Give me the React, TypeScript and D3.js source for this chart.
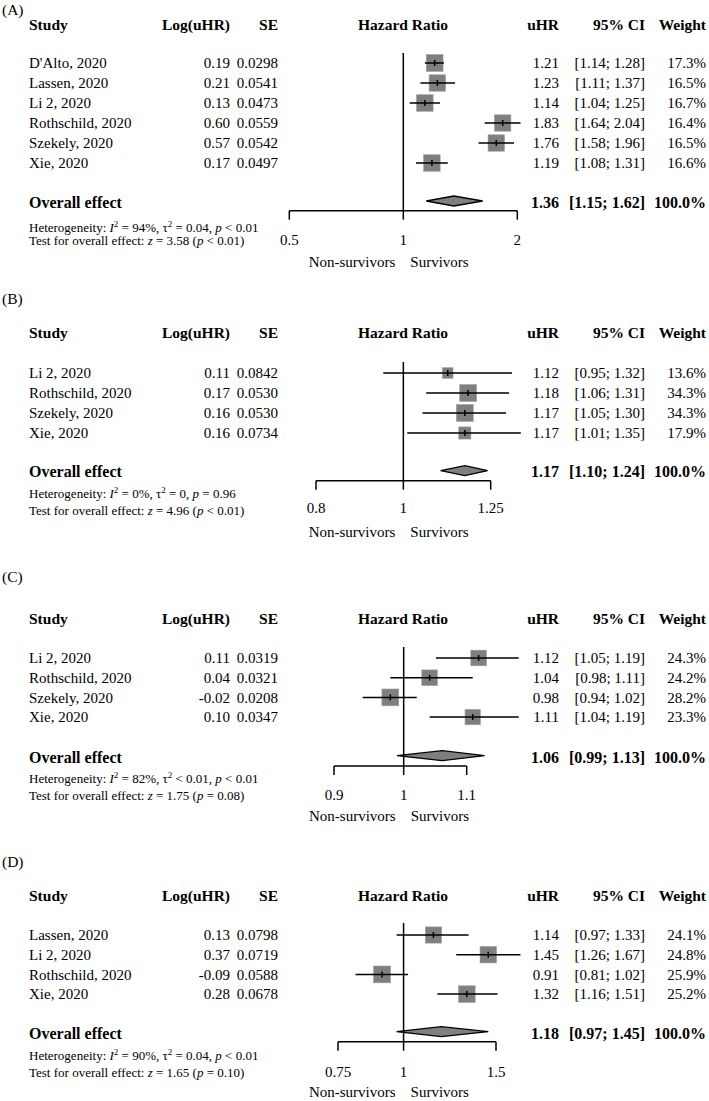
import React from "react";
import * as d3 from "d3";

// ---------- DATA ----------
const panelLabels = ["(A)", "(B)", "(C)", "(D)"];

const studiesA = ["D'Alto, 2020", "Lassen, 2020", "Li 2, 2020", "Rothschild, 2020", "Szekely, 2020", "Xie, 2020"];
const logA = [0.19, 0.21, 0.13, 0.6, 0.57, 0.17];
const seA = [0.0298, 0.0541, 0.0473, 0.0559, 0.0542, 0.0497];
const hrA = [1.21, 1.23, 1.14, 1.83, 1.76, 1.19];
const loA = [1.14, 1.11, 1.04, 1.64, 1.58, 1.08];
const hiA = [1.28, 1.37, 1.25, 2.04, 1.96, 1.31];
const wA = [17.3, 16.5, 16.7, 16.4, 16.5, 16.6];

const studiesB = ["Li 2, 2020", "Rothschild, 2020", "Szekely, 2020", "Xie, 2020"];
const logB = [0.11, 0.17, 0.16, 0.16];
const seB = [0.0842, 0.053, 0.053, 0.0734];
const hrB = [1.12, 1.18, 1.17, 1.17];
const loB = [0.95, 1.06, 1.05, 1.01];
const hiB = [1.32, 1.31, 1.3, 1.35];
const wB = [13.6, 34.3, 34.3, 17.9];

const studiesC = ["Li 2, 2020", "Rothschild, 2020", "Szekely, 2020", "Xie, 2020"];
const logC = [0.11, 0.04, -0.02, 0.1];
const seC = [0.0319, 0.0321, 0.0208, 0.0347];
const hrC = [1.12, 1.04, 0.98, 1.11];
const loC = [1.05, 0.98, 0.94, 1.04];
const hiC = [1.19, 1.11, 1.02, 1.19];
const wC = [24.3, 24.2, 28.2, 23.3];

const studiesD = ["Lassen, 2020", "Li 2, 2020", "Rothschild, 2020", "Xie, 2020"];
const logD = [0.13, 0.37, -0.09, 0.28];
const seD = [0.0798, 0.0719, 0.0588, 0.0678];
const hrD = [1.14, 1.45, 0.91, 1.32];
const loD = [0.97, 1.26, 0.81, 1.16];
const hiD = [1.33, 1.67, 1.02, 1.51];
const wD = [24.1, 24.8, 25.9, 25.2];

const overallHr = [1.36, 1.17, 1.06, 1.18];
const overallLo = [1.15, 1.1, 0.99, 0.97];
const overallHi = [1.62, 1.24, 1.13, 1.45];

const hetI2 = ["94%", "0%", "82%", "90%"];
const hetTau = ["= 0.04", "= 0", "< 0.01", "= 0.04"];
const hetP = ["< 0.01", "= 0.96", "< 0.01", "< 0.01"];
const testZ = ["3.58", "4.96", "1.75", "1.65"];
const testP = ["< 0.01", "< 0.01", "= 0.08", "= 0.10"];

const ticksA = [0.5, 1, 2];
const ticksB = [0.8, 1, 1.25];
const ticksC = [0.9, 1, 1.1];
const ticksD = [0.75, 1, 1.5];

const panels = [
  { studies: studiesA, log: logA, se: seA, hr: hrA, lo: loA, hi: hiA, w: wA, ticks: ticksA },
  { studies: studiesB, log: logB, se: seB, hr: hrB, lo: loB, hi: hiB, w: wB, ticks: ticksB },
  { studies: studiesC, log: logC, se: seC, hr: hrC, lo: loC, hi: hiC, w: wC, ticks: ticksC },
  { studies: studiesD, log: logD, se: seD, hr: hrD, lo: loD, hi: hiD, w: wD, ticks: ticksD },
];

// ---------- LAYOUT ----------
const layout = [
  { range: [289.3, 517.3], label: 10, header: 25, row0: 63, step: 20, overall: 202.5, diamond: 201, het: 227, test: 240, axis: 210.7, tickLabel: 240, surv: 261.7, refTop: 53 },
  { range: [316, 490.7], label: 299, header: 333, row0: 373, step: 20, overall: 471.5, diamond: 470.7, het: 493, test: 510, axis: 480.7, tickLabel: 508, surv: 532, refTop: 362 },
  { range: [334, 466.7], label: 576.7, header: 619, row0: 658, step: 19.7, overall: 757.5, diamond: 755.7, het: 778, test: 795, axis: 766, tickLabel: 795, surv: 816, refTop: 647 },
  { range: [338, 496], label: 861.7, header: 896, row0: 935, step: 19.7, overall: 1033.5, diamond: 1031.7, het: 1055, test: 1072, axis: 1041.7, tickLabel: 1071.7, surv: 1091.7, refTop: 923 },
];

const FONT = "'Liberation Serif', 'Times New Roman', Times, serif";
const X = { study: 29, log: 230, se: 278, hrHead: 403, uhr: 559, ci: 645, weight: 706 };
const REG = 15;
const BOLD = 15.5;
const SMALL = 13;
const GRAY = "#7f7f7f";

function Panel({ idx }: { idx: number }) {
  const p = panels[idx];
  const L = layout[idx];
  const x = d3.scaleLog().domain([p.ticks[0], p.ticks[p.ticks.length - 1]]).range(L.range);
  const maxW = d3.max(p.w) as number;
  const rowY = (i: number) => L.row0 + i * L.step;
  const x1 = x(1);
  const dy = "0.35em";
  const sup = { fontSize: 9 };
  return (
    <g fontFamily={FONT} fill="#000">
      <text x={2} y={L.label} dy={dy} fontSize={15.5}>{panelLabels[idx]}</text>
      {/* headers */}
      <g fontWeight="bold" fontSize={BOLD}>
        <text x={X.study} y={L.header} dy={dy}>Study</text>
        <text x={X.log} y={L.header} dy={dy} textAnchor="end">Log(uHR)</text>
        <text x={X.se} y={L.header} dy={dy} textAnchor="end">SE</text>
        <text x={X.hrHead} y={L.header} dy={dy} textAnchor="middle">Hazard Ratio</text>
        <text x={X.uhr} y={L.header} dy={dy} textAnchor="end">uHR</text>
        <text x={X.ci} y={L.header} dy={dy} textAnchor="end">95% CI</text>
        <text x={X.weight} y={L.header} dy={dy} textAnchor="end">Weight</text>
      </g>
      {/* rows */}
      {p.studies.map((s, i) => {
        const y = rowY(i);
        const side = 16.8 * Math.sqrt(p.w[i] / maxW);
        const cx = x(p.hr[i]);
        return (
          <g key={s} fontSize={REG}>
            <text x={X.study} y={y} dy={dy}>{s}</text>
            <text x={X.log} y={y} dy={dy} textAnchor="end">{p.log[i].toFixed(2)}</text>
            <text x={X.se} y={y} dy={dy} textAnchor="end">{p.se[i].toFixed(4)}</text>
            <rect x={cx - side / 2} y={y - side / 2} width={side} height={side} fill={GRAY} stroke="#9a9a9a" strokeWidth={0.6} />
            <line x1={x(p.lo[i])} x2={x(p.hi[i])} y1={y} y2={y} stroke="#000" strokeWidth={1.5} />
            <line x1={cx} x2={cx} y1={y - 3} y2={y + 3} stroke="#000" strokeWidth={1.5} />
            <text x={X.uhr} y={y} dy={dy} textAnchor="end">{p.hr[i].toFixed(2)}</text>
            <text x={X.ci} y={y} dy={dy} textAnchor="end">{`[${p.lo[i].toFixed(2)}; ${p.hi[i].toFixed(2)}]`}</text>
            <text x={X.weight} y={y} dy={dy} textAnchor="end">{`${p.w[i].toFixed(1)}%`}</text>
          </g>
        );
      })}
      {/* overall */}
      <g fontWeight="bold" fontSize={16}>
        <text x={X.study} y={L.overall} dy={dy}>Overall effect</text>
        <text x={X.uhr} y={L.overall} dy={dy} textAnchor="end">{overallHr[idx].toFixed(2)}</text>
        <text x={X.ci} y={L.overall} dy={dy} textAnchor="end">{`[${overallLo[idx].toFixed(2)}; ${overallHi[idx].toFixed(2)}]`}</text>
        <text x={X.weight} y={L.overall} dy={dy} textAnchor="end">100.0%</text>
      </g>
      <polygon
        points={[
          [x(overallLo[idx]), L.diamond],
          [x(overallHr[idx]), L.diamond - 5],
          [x(overallHi[idx]), L.diamond],
          [x(overallHr[idx]), L.diamond + 5],
        ].map((d) => d.join(",")).join(" ")}
        fill={GRAY}
        stroke="#000"
        strokeWidth={1.3}
      />
      {/* reference line */}
      <line x1={x1} x2={x1} y1={L.refTop} y2={L.axis} stroke="#000" strokeWidth={1.5} />
      {/* axis */}
      <line x1={L.range[0]} x2={L.range[1]} y1={L.axis} y2={L.axis} stroke="#000" strokeWidth={1.5} />
      {p.ticks.map((t) => (
        <g key={t}>
          <line x1={x(t)} x2={x(t)} y1={L.axis} y2={L.axis + 9} stroke="#000" strokeWidth={1.5} />
          <text x={x(t)} y={L.tickLabel} dy={dy} fontSize={REG} textAnchor="middle">{String(t)}</text>
        </g>
      ))}
      <text x={x1 - 8} y={L.surv} dy={dy} fontSize={REG} textAnchor="end">Non-survivors</text>
      <text x={x1 + 7} y={L.surv} dy={dy} fontSize={REG}>Survivors</text>
      {/* heterogeneity */}
      <text x={X.study} y={L.het} dy={dy} fontSize={SMALL}>
        Heterogeneity: <tspan fontStyle="italic">I</tspan>
        <tspan dy={-5} style={sup}>2</tspan>
        <tspan dy={5}>{` = ${hetI2[idx]}, τ`}</tspan>
        <tspan dy={-5} style={sup}>2</tspan>
        <tspan dy={5}>{` ${hetTau[idx]}, `}</tspan>
        <tspan fontStyle="italic">p</tspan>
        {` ${hetP[idx]}`}
      </text>
      <text x={X.study} y={L.test} dy={dy} fontSize={SMALL}>
        {"Test for overall effect: "}
        <tspan fontStyle="italic">z</tspan>
        {` = ${testZ[idx]} (`}
        <tspan fontStyle="italic">p</tspan>
        {` ${testP[idx]})`}
      </text>
    </g>
  );
}

export default function App() {
  return (
    <svg
      width={709}
      height={1101}
      viewBox="0 0 709 1101"
      style={{ position: "absolute", left: 0, top: 0, background: "#fff" }}
    >
      <rect width={709} height={1101} fill="#fff" />
      {panels.map((_, i) => (
        <Panel key={i} idx={i} />
      ))}
    </svg>
  );
}
